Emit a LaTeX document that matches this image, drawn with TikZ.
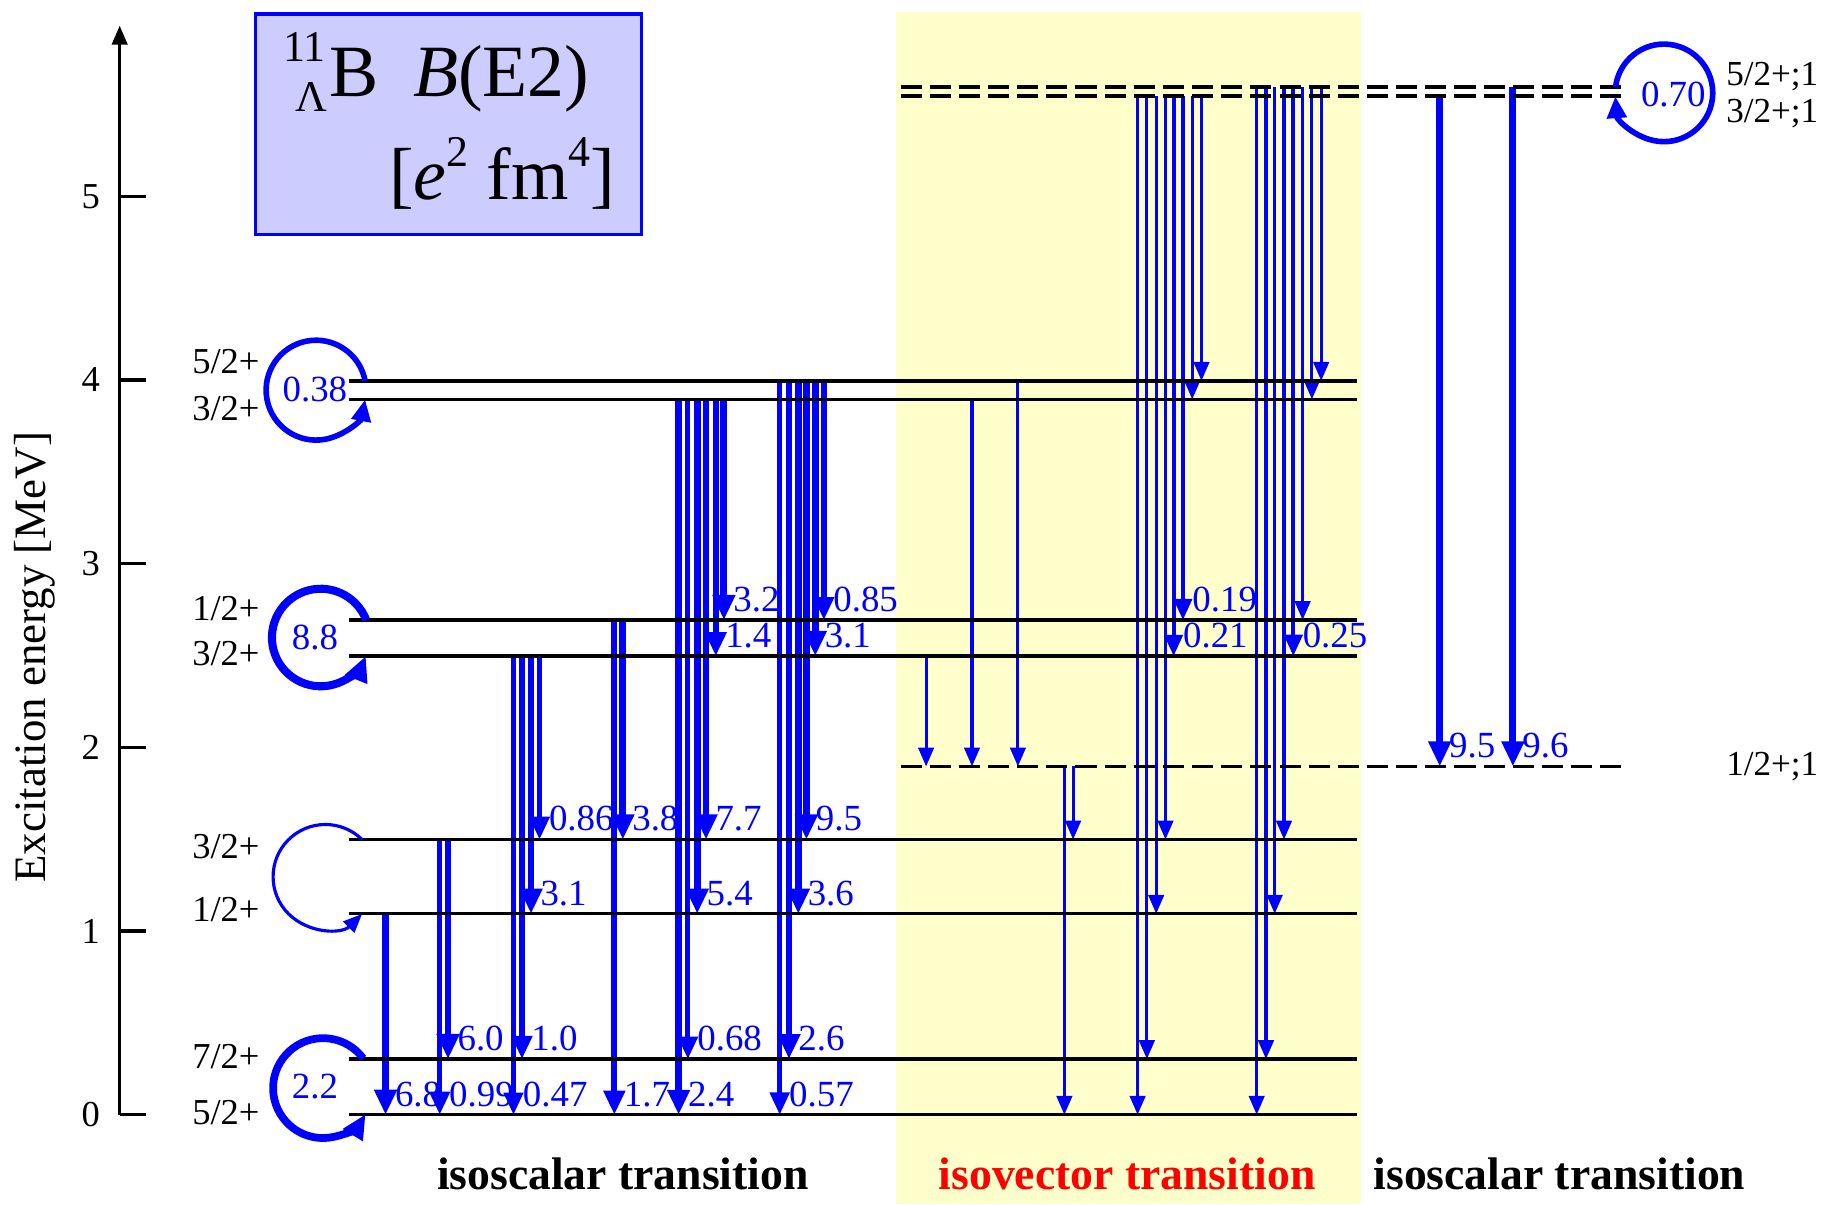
\documentclass[tikz,border=0pt]{standalone}
\usepackage{fontspec}
\setmainfont{Liberation Serif}
\usetikzlibrary{arrows.meta}
\definecolor{bandyellow}{RGB}{255,255,204}
\definecolor{boxlilac}{RGB}{204,204,255}
\begin{document}
\begin{tikzpicture}[x=0.01162cm, y=1.83828cm,
  lvl/.style={line width=0.95pt},
  lvldash/.style={line width=1.05pt, dash pattern=on 6pt off 2.3pt},
  jlab/.style={font=\fontsize{10.4}{12}\selectfont, inner sep=0pt},
  rlab/.style={font=\fontsize{10}{12}\selectfont, inner sep=0pt, anchor=west},
  bval/.style={font=\fontsize{10.5}{12}\selectfont, text=blue, inner sep=0pt,
               anchor=base west, xshift=0.088cm, yshift=0.087cm},
  loopval/.style={font=\fontsize{10.5}{12}\selectfont, text=blue, inner sep=0pt},
  axtick/.style={line width=0.95pt},
  ticklab/.style={font=\fontsize{10.4}{12}\selectfont, inner sep=0pt},
  regionlab/.style={font=\bfseries\fontsize{13}{15}\selectfont, inner sep=0pt, anchor=base},
  titlef/.style={font=\fontsize{21}{25}\selectfont, inner sep=0pt},
  titlesub/.style={font=\fontsize{12.5}{14}\selectfont, inner sep=0pt},
  thinE2/.style={blue, line width=0.9pt, -{Triangle[width=4.4pt, length=5.4pt]}},
]
\useasboundingbox (0,-0.4867) rectangle (1568,6.0683);

% isovector region
\fill[bandyellow] (771,-0.4867) rectangle (1171,6.005);

% title box
\draw[blue, line width=1pt, fill=boxlilac] (220,5.992) rectangle (552,4.791);
\node[titlesub, anchor=base east] (tmass) at (281,5.733) {11};
\node[titlesub, anchor=base east] (thyp) at (282,5.461) {Λ};
\node[titlef, anchor=base west] (tnuc) at (283,5.544) {B};
\node[titlef, anchor=base west] (tbe2) at (355,5.544) {\textit{B}(E2)};
\node[titlef, anchor=base east] (tunit) at (530,4.981)
  {[\textit{e}\raisebox{9.5pt}{\fontsize{12.5}{12}\selectfont 2} fm\raisebox{9.5pt}{\fontsize{12.5}{12}\selectfont 4}]};

% energy axis
\draw[line width=1pt, -{Triangle[width=4.3pt, length=5.4pt]}] (103,0) -- (103,5.929);
\foreach \k in {0,...,5} {
  \draw[axtick] (103,\k) -- (126,\k);
  \node[ticklab] (tk\k) at (78,\k) {\k};
}
\node[rotate=90, font=\fontsize{12.8}{15}\selectfont, inner sep=0pt] (ylab) at (30,2.4905) {Excitation energy [MeV]};

% levels
\foreach \nm/\en in {gs/0, s72/0.303, s12a/1.094, s32a/1.498, s32b/2.497, s12b/2.693, s32c/3.894, s52/3.995}
  \coordinate (\nm) at (0,\en);
\coordinate (v12) at (0,1.896);
\coordinate (v32) at (0,5.544);
\coordinate (v52) at (0,5.594);

% weak isovector transitions
\foreach \tx/\tfrom/\tto in {797/s32b/v12, 836.5/s32c/v12, 876/s52/v12, 916/v12/gs, 923.5/v12/s32a,
    979/v32/gs, 987/v32/s72, 995/v32/s12a, 1003/v32/s32a, 1026/v32/s32c, 1034/v32/s52,
    1081.5/v52/gs, 1089.5/v52/s72, 1097/v52/s12a, 1105/v52/s32a, 1121/v52/s12b, 1129/v52/s32c, 1137/v52/s52}
  \draw[thinE2] (\tx,0 |- \tfrom) -- (\tx,0 |- \tto);

% labelled transitions, width growing with B(E2)
\foreach \tx/\tfrom/\tto/\tval [count=\k] in {331.8/s12a/gs/6.8, 378.4/s32a/gs/0.99, 385.6/s32a/s72/6.0,
    441.9/s32b/gs/0.47, 449.2/s32b/s72/1.0, 457/s32b/s12a/3.1, 464.3/s32b/s32a/0.86,
    528.7/s12b/gs/1.7, 536/s12b/s32a/3.8,
    584/s32c/gs/2.4, 592/s32c/s72/0.68, 600/s32c/s12a/5.4, 607.6/s32c/s32a/7.7, 616/s32c/s32b/1.4, 623/s32c/s12b/3.2,
    671/s52/gs/0.57, 679/s52/s72/2.6, 687/s52/s12a/3.6, 694/s52/s32a/9.5, 701.6/s52/s32b/3.1, 709/s52/s12b/0.85,
    1010/v32/s32b/0.21, 1018/v32/s12b/0.19, 1113/v52/s32b/0.25,
    1239/v32/v12/9.5, 1302/v52/v12/9.6}
{
  \pgfmathsetmacro\tw{min(1.95, 0.95+0.45*ln(1+3*\tval))}
  \pgfmathsetmacro\hw{3.6+1.3*\tw}
  \pgfmathsetmacro\hl{1.12*\hw+0.3}
  \draw[blue, line width=\tw pt, -{Triangle[width=\hw pt, length=\hl pt]}] (\tx,0 |- \tfrom) -- (\tx,0 |- \tto);
  \node[bval] (val\k) at (\tx,0 |- \tto) {\tval};
}

% level lines
\foreach \nm in {gs, s72, s12a, s32a, s32b, s12b, s32c, s52}
  \draw[lvl] (300,0 |- \nm) -- (1168,0 |- \nm);
\draw[lvldash] (775,0 |- v12) -- (1400,0 |- v12);
\draw[lvldash] (775,0 |- v32) -- (1399,0 |- v32);
\draw[lvldash] (775,0 |- v52) -- (1399,0 |- v52);

% spin-parity labels
\node[jlab, anchor=east] (j1) at (224,4.102) {5/2+};
\node[jlab, anchor=east] (j2) at (224,3.843) {3/2+};
\node[jlab, anchor=east] (j3) at (224,2.756) {1/2+};
\node[jlab, anchor=east] (j4) at (224,2.509) {3/2+};
\node[jlab, anchor=east] (j5) at (224,1.460) {3/2+};
\node[jlab, anchor=east] (j6) at (224,1.119) {1/2+};
\node[jlab, anchor=east] (j7) at (224,0.316) {7/2+};
\node[jlab, anchor=east] (j8) at (224,0.013) {5/2+};
\node[rlab] (r1) at (1485,5.651) {5/2+;1};
\node[rlab] (r2) at (1485,5.449) {3/2+;1};
\node[rlab] (r3) at (1485,1.896) {1/2+;1};

% diagonal (self) transitions
\coordinate (cA) at (272,3.9444);
\draw[blue, line width=1.6pt, -{Triangle[width=5.4pt, length=6.2pt]}]
  ([shift={(10.7:0.4997cm)}]cA) arc[start angle=10.7, end angle=349.3, radius=0.4997cm];
\node[loopval] (lA) at (271,3.9507) {0.38};

\coordinate (cB) at (276,2.598);
\draw[blue, line width=2.3pt, -{Triangle[width=6.4pt, length=7.2pt]}]
  ([shift={(20.9:0.488cm)}]cB) arc[start angle=20.9, end angle=337.6, radius=0.488cm];
\node[loopval] (lB) at (271,2.598) {8.8};

\coordinate (cC) at (280,1.2958);
\draw[blue, line width=0.9pt, -{Triangle[width=4.4pt, length=5.4pt]}]
  ([shift={(45.3:0.523cm)}]cC) arc[start angle=45.3, end angle=314.7, radius=0.523cm];

\coordinate (cD) at (278,0.1454);
\draw[blue, line width=2.2pt, -{Triangle[width=6.2pt, length=7pt]}]
  ([shift={(36.5:0.4997cm)}]cD) arc[start angle=36.5, end angle=328.5, radius=0.4997cm];
\node[loopval] (lD) at (271,0.1517) {2.2};

\coordinate (cE) at (1432,5.5626);
\draw[blue, line width=1.6pt, -{Triangle[width=5.4pt, length=6.2pt]}]
  ([shift={(173.2:0.488cm)}]cE) arc[start angle=173.2, end angle=-175.9, radius=0.488cm];
\node[loopval] (lE) at (1440,5.556) {0.70};

% region captions
\node[regionlab] (cap1) at (536,-0.4046) {isoscalar transition};
\node[regionlab, text=red] (cap2) at (970,-0.4046) {isovector transition};
\node[regionlab] (cap3) at (1342,-0.4046) {isoscalar transition};
\end{tikzpicture}
\end{document}
